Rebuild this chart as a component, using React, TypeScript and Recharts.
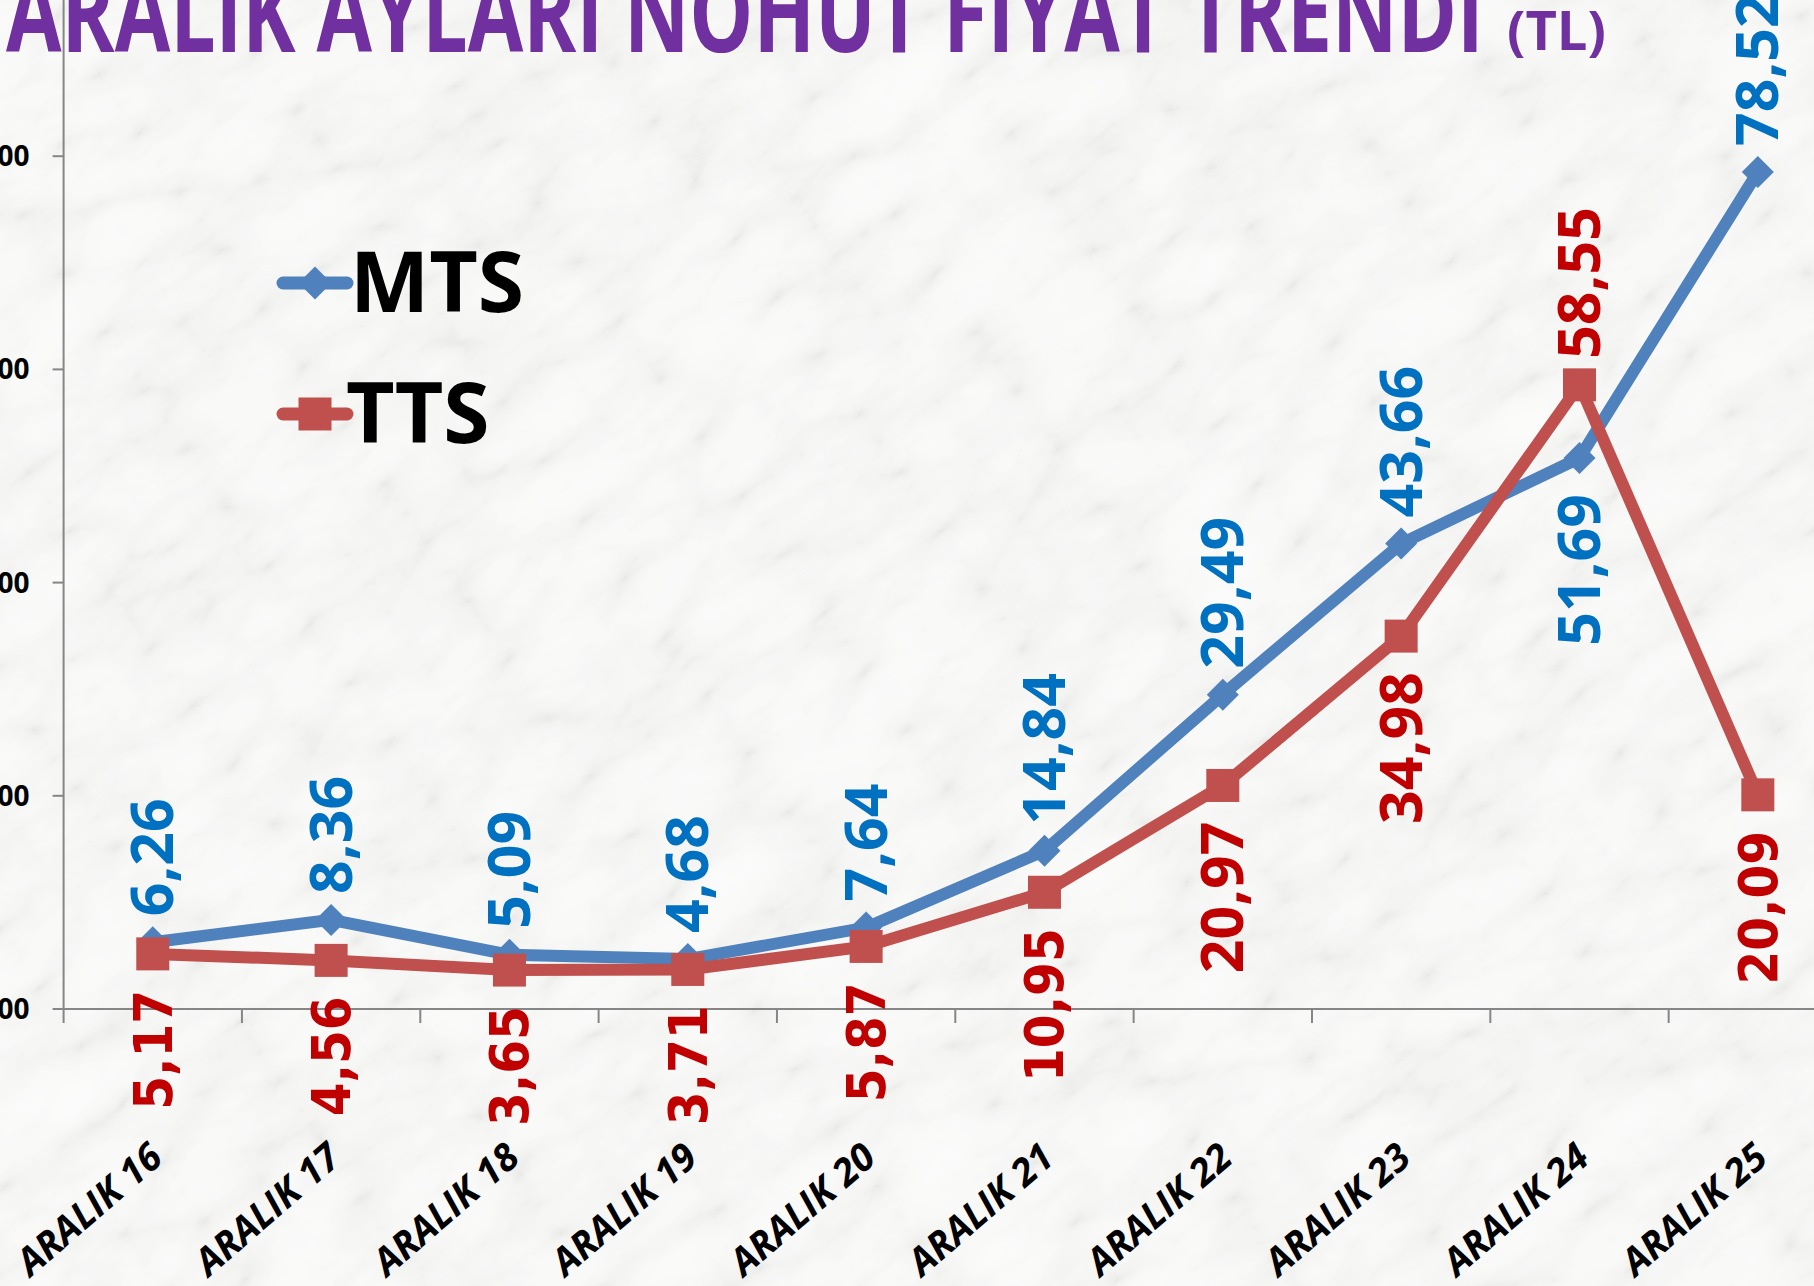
import React, { useLayoutEffect, useRef, useState } from 'react';
import { LineChart, Line, XAxis, YAxis, LabelList, Legend } from 'recharts';

// ---------- data ----------
const categories = [
  'ARALIK 16', 'ARALIK 17', 'ARALIK 18', 'ARALIK 19', 'ARALIK 20',
  'ARALIK 21', 'ARALIK 22', 'ARALIK 23', 'ARALIK 24', 'ARALIK 25',
];
const mtsValues = [6.26, 8.36, 5.09, 4.68, 7.64, 14.84, 29.49, 43.66, 51.69, 78.52];
const ttsValues = [5.17, 4.56, 3.65, 3.71, 5.87, 10.95, 20.97, 34.98, 58.55, 20.09];
const yTicks = [0, 20, 40, 60, 80];
const seriesNames = ['MTS', 'TTS'];
const titleText = 'ARALIK AYLARI NOHUT FİYAT TRENDİ';
const titleUnit = '(TL)';

const data = categories.map((name, i) => ({ name, mts: mtsValues[i], tts: ttsValues[i] }));

// ---------- layout / style ----------
const PAGE_W = 1814;
const PAGE_H = 1286;
const CHART_W = 1857;
const CHART_H = 1366;
const CHART_TOP = -57;
const Y_AXIS_W = 63.6;
const X_AXIS_H = 300;
const MARGIN = { top: 0, right: 10, bottom: 0, left: 0 };
const PLOT_W = CHART_W - MARGIN.right - MARGIN.left - Y_AXIS_W;
const BAND = PLOT_W / categories.length;
const HALF = BAND / 2;

const BLUE = '#4F81BD';
const RED = '#C0504D';
const BLUE_TXT = '#0070C0';
const RED_TXT = '#C00000';
const AXIS = '#868686';
const PURPLE = '#7030A0';

const mtsBelow = [8];
const ttsAbove = [8];
const ttsNarrowFont = [0, 1, 2, 3, 4, 5, 9];

const fmt = (v: number) => v.toFixed(2).replace('.', ',');

const marbleSvg = `<svg xmlns="http://www.w3.org/2000/svg" width="${PAGE_W}" height="${PAGE_H}"><defs><filter id="m" x="0" y="0" width="100%" height="100%"><feTurbulence type="turbulence" baseFrequency="0.007 0.014" numOctaves="5" seed="11"/><feColorMatrix type="matrix" values="0.33 0.33 0.33 0 0 0.33 0.33 0.33 0 0 0.33 0.33 0.33 0 0 0 0 0 0 1"/><feComponentTransfer><feFuncR type="table" tableValues="0.81 0.90 0.945 0.96 0.97 0.975"/><feFuncG type="table" tableValues="0.81 0.90 0.945 0.96 0.97 0.975"/><feFuncB type="table" tableValues="0.80 0.89 0.94 0.955 0.967 0.972"/></feComponentTransfer></filter></defs><g transform="rotate(-35 907 643)"><rect x="-800" y="-800" width="3400" height="2900" filter="url(#m)"/></g></svg>`;
const marbleBg = `url("data:image/svg+xml,${encodeURIComponent(marbleSvg)}")`;

// ---------- renderers ----------
const renderDiamond = (p: any) => {
  const { cx, cy, index } = p;
  if (cx == null || cy == null) return <g key={`d${index}`} />;
  const r = 16;
  return (
    <path
      key={`d${index}`}
      d={`M${cx},${cy - r}L${cx + r},${cy}L${cx},${cy + r}L${cx - r},${cy}Z`}
      fill={BLUE}
    />
  );
};

const renderSquare = (p: any) => {
  const { cx, cy, index } = p;
  if (cx == null || cy == null) return <g key={`s${index}`} />;
  const s = 33;
  return <rect key={`s${index}`} x={cx - s / 2} y={cy - s / 2} width={s} height={s} fill={RED} />;
};

const makeLabel = (color: string, isBelow: (i: number) => boolean, narrow: number[]) => (p: any) => {
  const { x, y, value, index } = p;
  if (x == null || y == null) return null;
  const below = isBelow(index);
  const useNarrow = narrow.includes(index);
  const ty = below ? y + 36 : y - 26;
  return (
    <text
      key={`l${index}`}
      x={x}
      y={ty}
      dy="0.35em"
      transform={`rotate(-90 ${x} ${ty})`}
      textAnchor={below ? 'end' : 'start'}
      fontFamily={useNarrow ? "'DejaVu Sans Condensed', 'DejaVu Sans', sans-serif" : "'Open Sans', sans-serif"}
      fontWeight={700}
      fontSize={useNarrow ? 54 : 59}
      fill={color}
    >
      {fmt(Number(value))}
    </text>
  );
};

const mtsLabel = makeLabel(BLUE_TXT, (i) => mtsBelow.includes(i), []);
const ttsLabel = makeLabel(RED_TXT, (i) => !ttsAbove.includes(i), ttsNarrowFont);

const XTick = (p: any) => {
  const { x, y, payload } = p;
  const idx = categories.indexOf(payload.value);
  const tx = x + 12;
  const ty = y + 152;
  return (
    <g>
      <line x1={x - HALF} y1={y} x2={x - HALF} y2={y + 14} stroke={AXIS} strokeWidth={2} />
      {idx === categories.length - 1 && (
        <line x1={x + HALF} y1={y} x2={x + HALF} y2={y + 14} stroke={AXIS} strokeWidth={2} />
      )}
      <text
        x={tx}
        y={ty}
        textAnchor="end"
        transform={`rotate(-41 ${tx} ${ty})`}
        fontFamily="'Open Sans', sans-serif"
        fontStyle="italic"
        fontWeight={700}
        fontSize={38}
        fill="#000"
      >
        {payload.value}
      </text>
    </g>
  );
};

const renderLegend = () => (
  <svg width={420} height={300} style={{ display: 'block' }}>
    <line x1={13} y1={83} x2={77} y2={83} stroke={BLUE} strokeWidth={13} strokeLinecap="round" />
    <path d="M45,66.5L61.5,83L45,99.5L28.5,83Z" fill={BLUE} />
    <text x={80} y={112} fontFamily="'Open Sans', sans-serif" fontWeight={700} fontSize={84} fill="#000">
      {seriesNames[0]}
    </text>
    <line x1={13} y1={214} x2={77} y2={214} stroke={RED} strokeWidth={13} strokeLinecap="round" />
    <rect x={28.5} y={197.5} width={33} height={33} fill={RED} />
    <text x={76} y={243} fontFamily="'Open Sans', sans-serif" fontWeight={700} fontSize={84} fill="#000">
      {seriesNames[1]}
    </text>
  </svg>
);

// title text fitted to a fixed width by a measured horizontal scale
const FittedText = ({ x, y, width, fontSize, text }: { x: number; y: number; width: number; fontSize: number; text: string }) => {
  const ref = useRef<SVGTextElement>(null);
  const [sx, setSx] = useState(1);
  useLayoutEffect(() => {
    if (ref.current) {
      const len = ref.current.getComputedTextLength();
      if (len > 0) setSx(width / len);
    }
  }, [width, text, fontSize]);
  return (
    <text
      ref={ref}
      x={0}
      y={0}
      transform={`translate(${x} ${y}) scale(${sx} 1)`}
      fontFamily="'Open Sans', sans-serif"
      fontWeight={700}
      fontSize={fontSize}
      fill={PURPLE}
    >
      {text}
    </text>
  );
};

export default function App() {
  return (
    <div
      style={{
        position: 'fixed',
        left: 0,
        top: 0,
        width: PAGE_W,
        height: PAGE_H,
        overflow: 'hidden',
        backgroundColor: '#f4f4f4',
        backgroundImage: marbleBg,
      }}
    >
      <div style={{ position: 'absolute', left: 0, top: CHART_TOP }}>
        <LineChart width={CHART_W} height={CHART_H} data={data} margin={MARGIN}>
          <XAxis
            dataKey="name"
            type="category"
            padding={{ left: HALF, right: HALF }}
            axisLine={{ stroke: AXIS, strokeWidth: 2 }}
            tickLine={false}
            tickSize={0}
            tickMargin={0}
            height={X_AXIS_H}
            interval={0}
            tick={<XTick />}
          />
          <YAxis
            type="number"
            domain={[0, 100]}
            ticks={yTicks}
            width={Y_AXIS_W}
            tickSize={11}
            tickMargin={23}
            axisLine={{ stroke: AXIS, strokeWidth: 2 }}
            tickLine={{ stroke: AXIS, strokeWidth: 2 }}
            tickFormatter={(v: number) => fmt(v)}
            tick={{ fill: '#000', fontSize: 28, fontWeight: 700, fontFamily: "'Open Sans', sans-serif" }}
          />
          <Legend
            verticalAlign="middle"
            align="center"
            layout="horizontal"
            content={renderLegend}
            wrapperStyle={{ position: 'absolute', left: 270, top: 200 - CHART_TOP, width: 420, height: 300 }}
          />
          <Line
            dataKey="mts"
            name={seriesNames[0]}
            type="linear"
            stroke={BLUE}
            strokeWidth={12}
            dot={renderDiamond}
            activeDot={false}
            isAnimationActive={false}
          >
            <LabelList dataKey="mts" content={mtsLabel} />
          </Line>
          <Line
            dataKey="tts"
            name={seriesNames[1]}
            type="linear"
            stroke={RED}
            strokeWidth={12}
            dot={renderSquare}
            activeDot={false}
            isAnimationActive={false}
          >
            <LabelList dataKey="tts" content={ttsLabel} />
          </Line>
        </LineChart>
      </div>
      <svg
        width={PAGE_W}
        height={140}
        style={{ position: 'absolute', left: 0, top: 0, pointerEvents: 'none' }}
      >
        <FittedText x={6} y={52} width={1478} fontSize={110} text={titleText} />
        <FittedText x={1507} y={50} width={99} fontSize={53} text={titleUnit} />
      </svg>
    </div>
  );
}
